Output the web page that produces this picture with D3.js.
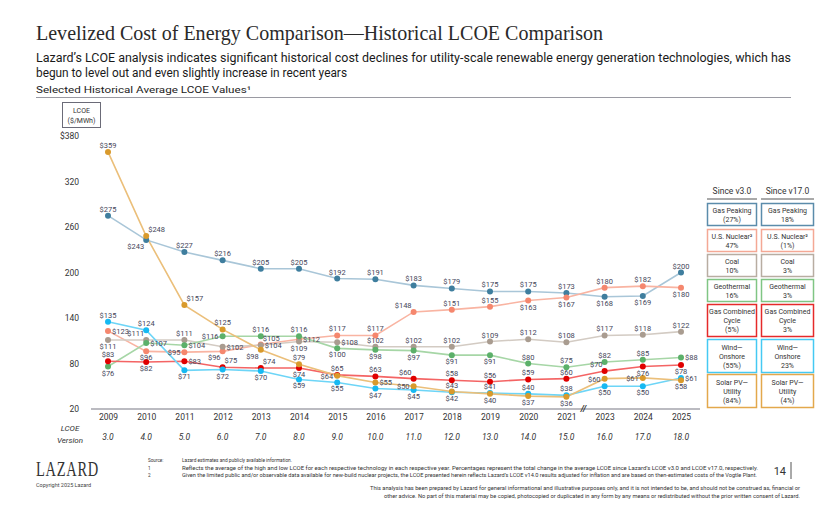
<!DOCTYPE html>
<html>
<head>
<meta charset="utf-8">
<script src="https://cdn.jsdelivr.net/npm/d3@7"></script>
<style>
  body { margin: 0; background: #fff; }
  svg { display: block; font-family: Roboto, "Liberation Sans", sans-serif; }
</style>
</head>
<body>
<div id="chart"></div>
<script>
// years on the x axis (no 2022 edition, hence the break mark)
const years = ["2009", "2010", "2011", "2012", "2013", "2014", "2015", "2016",
               "2017", "2018", "2019", "2020", "2021", "2023", "2024", "2025"];
const versions = ["3.0", "4.0", "5.0", "6.0", "7.0", "8.0", "9.0", "10.0",
                  "11.0", "12.0", "13.0", "14.0", "15.0", "16.0", "17.0", "18.0"];
const yTicks = [20, 80, 140, 200, 260, 320, 380];

const gasPeaking  = [275, 243, 227, 216, 205, 205, 192, 191, 183, 179, 175, 175, 173, 168, 169, 200];
const usNuclear   = [123, 96, 95, 96, 105, 112, 117, 117, 148, 151, 155, 163, 167, 180, 182, 180];
const coal        = [111, 111, 111, 102, 104, 109, 108, 102, 102, 102, 109, 112, 108, 117, 118, 122];
const geothermal  = [76, 107, 104, 116, 116, 116, 100, 98, 97, 91, 91, 80, 75, 82, 85, 88];
const gasCombined = [83, 82, 83, 75, 74, 74, 65, 63, 60, 58, 56, 59, 60, 70, 76, 78];
const windOnshore = [135, 124, 71, 72, 70, 59, 55, 47, 45, 42, 41, 40, 38, 50, 50, 61];
const solarPV     = [359, 248, 157, 125, 98, 79, 64, 55, 50, 43, 40, 37, 36, 60, 61, 58];

// legend text: [name lines, since v3.0, since v17.0]
const legendNames = [["Gas Peaking"], ["U.S. Nuclear²"], ["Coal"], ["Geothermal"],
                     ["Gas Combined", "Cycle"], ["Wind—", "Onshore"], ["Solar PV—", "Utility"]];
const sinceV3  = ["(27%)", "47%", "10%", "16%", "(5%)", "(55%)", "(84%)"];
const sinceV17 = ["18%", "(1%)", "3%", "3%", "3%", "23%", "(4%)"];

// where each value label sits relative to its point
const labelPos = [
  ["a","bl","a","a","a","a","a","a","a","a","a","a","a","b","b","a"],
  ["r","b","l","bl","ar","r","a","a","al","a","a","b","b","a","a","b"],
  ["b","al","a","r","r","b","r","a","a","a","a","a","a","a","a","a"],
  ["b","r","r","l","a","a","b","b","b","b","b","a","a","a","a","r"],
  ["a","b","r","ar","ar","b","a","a","al","a","a","a","a","al","b","b"],
  ["a","a","b","b","b","b","b","b","b","b","a","a","a","b","b","r"],
  ["a","ar","ar","a","bl","a","l","r","l","a","b","b","b","l","l","b"]
];

const series = [
  { name: "Gas Peaking", values: gasPeaking, line: "#a9c6d8", dot: "#3f7e9e", box: "#5b8cab" },
  { name: "U.S. Nuclear", values: usNuclear, line: "#f9b4a2", dot: "#f5876e", box: "#f4a895" },
  { name: "Coal", values: coal, line: "#d3cbc3", dot: "#a99c90", box: "#b8ada2" },
  { name: "Geothermal", values: geothermal, line: "#a6d6a6", dot: "#5cb06a", box: "#80c584" },
  { name: "Gas Combined Cycle", values: gasCombined, line: "#f46464", dot: "#e00000", box: "#e52a2a" },
  { name: "Wind—Onshore", values: windOnshore, line: "#6dd5f7", dot: "#16b9f2", box: "#45c9f3" },
  { name: "Solar PV—Utility", values: solarPV, line: "#ebbf7a", dot: "#d99a2c", box: "#e3a84c" }
];

const W = 829, H = 508;
const svg = d3.select("#chart").append("svg")
  .attr("width", W).attr("height", H);

// header
svg.append("text")
  .attr("x", 36).attr("y", 40)
  .attr("font-family", "'Liberation Serif', 'DejaVu Serif', serif")
  .attr("font-size", 22).attr("fill", "#2a2a2a")
  .attr("textLength", 567).attr("lengthAdjust", "spacingAndGlyphs")
  .text("Levelized Cost of Energy Comparison—Historical LCOE Comparison");

svg.append("text")
  .attr("x", 36).attr("y", 62)
  .attr("font-size", 12.5).attr("fill", "#1a1a1a")
  .attr("textLength", 755).attr("lengthAdjust", "spacingAndGlyphs")
  .text("Lazard’s LCOE analysis indicates significant historical cost declines for utility-scale renewable energy generation technologies, which has");
svg.append("text")
  .attr("x", 36).attr("y", 77)
  .attr("font-size", 12.5).attr("fill", "#1a1a1a")
  .attr("textLength", 311).attr("lengthAdjust", "spacingAndGlyphs")
  .text("begun to level out and even slightly increase in recent years");

svg.append("text")
  .attr("x", 36).attr("y", 93)
  .attr("font-size", 9.5).attr("fill", "#222")
  .attr("textLength", 215).attr("lengthAdjust", "spacingAndGlyphs")
  .text("Selected Historical Average LCOE Values¹");
svg.append("line")
  .attr("x1", 36).attr("x2", 791).attr("y1", 97.5).attr("y2", 97.5)
  .attr("stroke", "#9a9aa2").attr("stroke-width", 1);

// scales
const x = d3.scalePoint().domain(years).range([108, 681]);
const y = d3.scaleLinear().domain([20, 380]).range([409, 136]);

// y axis label box
svg.append("rect")
  .attr("x", 62.5).attr("y", 102.5).attr("width", 38).attr("height", 25)
  .attr("fill", "none").attr("stroke", "#6b6b78").attr("stroke-width", 1);
svg.append("text").attr("x", 81.5).attr("y", 112.5)
  .attr("text-anchor", "middle").attr("font-size", 7).attr("fill", "#333")
  .text("LCOE");
svg.append("text").attr("x", 81.5).attr("y", 122.5)
  .attr("text-anchor", "middle").attr("font-size", 7).attr("fill", "#333")
  .text("($/MWh)");

// y axis (labels only)
const yAxis = d3.axisLeft(y)
  .tickValues(yTicks)
  .tickSize(0)
  .tickFormat(d => d === 380 ? "$380" : d);
const yg = svg.append("g").attr("transform", "translate(82,0)").call(yAxis);
yg.select(".domain").remove();
yg.selectAll("text").attr("font-size", 8.5).attr("fill", "#333").attr("font-family", "Roboto, sans-serif");

// x axis baseline and year labels
svg.append("line")
  .attr("x1", 91).attr("x2", 700).attr("y1", 409).attr("y2", 409)
  .attr("stroke", "#a5a5ad").attr("stroke-width", 1.5);

const xAxis = d3.axisBottom(x).tickSize(0).tickPadding(0);
const xg = svg.append("g").attr("transform", "translate(0,414)").call(xAxis);
xg.select(".domain").remove();
xg.selectAll("text").attr("font-size", 8.5).attr("fill", "#333")
  .attr("dy", "0.71em").attr("font-family", "Roboto, sans-serif");

const vg = svg.append("g");
vg.selectAll("text").data(versions).join("text")
  .attr("x", (d, i) => x(years[i])).attr("y", 440)
  .attr("text-anchor", "middle").attr("font-size", 8.5)
  .attr("font-style", "italic").attr("fill", "#333")
  .text(d => d);
svg.append("text").attr("x", 70).attr("y", 431).attr("text-anchor", "middle")
  .attr("font-size", 8).attr("font-style", "italic").attr("fill", "#333").text("LCOE");
svg.append("text").attr("x", 70).attr("y", 443).attr("text-anchor", "middle")
  .attr("font-size", 8).attr("font-style", "italic").attr("fill", "#333").text("Version");

// axis break between 2021 and 2023
svg.append("text")
  .attr("x", (x("2021") + x("2023")) / 2 - 2).attr("y", 412)
  .attr("text-anchor", "middle").attr("font-size", 9).attr("font-weight", 700)
  .attr("font-style", "italic").attr("fill", "#333").text("//");

// lines, points, labels
const line = d3.line()
  .x((d, i) => x(years[i]))
  .y(d => y(d));

const offsets = {
  a:  { dx: 0,  dy: -4, anchor: "middle" },
  b:  { dx: 0,  dy: 9,  anchor: "middle" },
  l:  { dx: -4, dy: 3,  anchor: "end" },
  r:  { dx: 4,  dy: 3,  anchor: "start" },
  al: { dx: -2, dy: -4, anchor: "end" },
  ar: { dx: 2,  dy: -4, anchor: "start" },
  bl: { dx: -2, dy: 9,  anchor: "end" }
};

const plot = svg.append("g");
series.forEach(s => {
  plot.append("path")
    .datum(s.values)
    .attr("fill", "none")
    .attr("stroke", s.line)
    .attr("stroke-width", 1.6)
    .attr("d", line);
});
series.forEach(s => {
  plot.append("g").selectAll("circle").data(s.values).join("circle")
    .attr("cx", (d, i) => x(years[i]))
    .attr("cy", d => y(d))
    .attr("r", 3)
    .attr("fill", s.dot);
});
series.forEach((s, si) => {
  plot.append("g").selectAll("text").data(s.values).join("text")
    .attr("x", (d, i) => x(years[i]) + offsets[labelPos[si][i]].dx)
    .attr("y", (d, i) => y(d) + offsets[labelPos[si][i]].dy)
    .attr("text-anchor", (d, i) => offsets[labelPos[si][i]].anchor)
    .attr("font-size", 7.5)
    .attr("fill", "#45465a")
    .text(d => "$" + d);
});

// legend tables
const cols = [
  { x: 707, w: 50, head: "Since v3.0", vals: sinceV3 },
  { x: 761, w: 53, head: "Since v17.0", vals: sinceV17 }
];
const boxTops = [203, 229, 254, 279, 304, 339, 374];
const boxH = [22, 22, 22, 22, 32, 33, 33];

cols.forEach(c => {
  svg.append("text").attr("x", c.x + c.w / 2).attr("y", 194)
    .attr("text-anchor", "middle").attr("font-size", 8.5)
    .attr("fill", "#333").text(c.head);
  svg.append("line")
    .attr("x1", c.x).attr("x2", c.x + c.w).attr("y1", 199).attr("y2", 199)
    .attr("stroke", "#555").attr("stroke-width", 1);

  series.forEach((s, i) => {
    const g = svg.append("g");
    g.append("rect")
      .attr("x", c.x + 0.5).attr("y", boxTops[i] + 0.5)
      .attr("width", c.w - 1).attr("height", boxH[i])
      .attr("fill", "#fff").attr("stroke", s.box).attr("stroke-width", 1.5);
    const lines = legendNames[i].concat([c.vals[i]]);
    const top = boxTops[i] + boxH[i] / 2 - (lines.length - 1) * 4.5 + 3;
    lines.forEach((t, k) => {
      g.append("text")
        .attr("x", c.x + c.w / 2).attr("y", top + k * 9)
        .attr("text-anchor", "middle").attr("font-size", 7)
        .attr("fill", "#333").text(t);
    });
  });
});

// footer
svg.append("text").attr("x", 36).attr("y", 476)
  .attr("font-family", "'Liberation Serif', serif").attr("font-size", 20)
  .attr("letter-spacing", 1).attr("fill", "#333")
  .attr("textLength", 63).attr("lengthAdjust", "spacingAndGlyphs").text("LAZARD");
svg.append("text").attr("x", 36).attr("y", 487)
  .attr("font-size", 5.5).attr("fill", "#444").text("Copyright 2025 Lazard");

const notes = [
  ["Source:", "Lazard estimates and publicly available information."],
  ["1", "Reflects the average of the high and low LCOE for each respective technology in each respective year. Percentages represent the total change in the average LCOE since Lazard’s LCOE v3.0 and LCOE v17.0, respectively."],
  ["2", "Given the limited public and/or observable data available for new-build nuclear projects, the LCOE presented herein reflects Lazard’s LCOE v14.0 results adjusted for inflation and are based on then-estimated costs of the Vogtle Plant."]
];
const noteLen = [110, 576, 575];
notes.forEach((n, i) => {
  svg.append("text").attr("x", 148).attr("y", 462 + i * 7.5)
    .attr("font-size", 4.6).attr("fill", "#333").text(n[0]);
  svg.append("text").attr("x", 182).attr("y", 462 + i * 7.5)
    .attr("font-size", 4.6).attr("fill", "#333")
    .attr("textLength", noteLen[i]).attr("lengthAdjust", "spacingAndGlyphs").text(n[1]);
});

svg.append("text").attr("x", 786).attr("y", 475).attr("text-anchor", "end")
  .attr("font-size", 11).attr("fill", "#333").text("14");
svg.append("line").attr("x1", 791).attr("x2", 791).attr("y1", 462).attr("y2", 479)
  .attr("stroke", "#555").attr("stroke-width", 1);

const disclaimer = [
  "This analysis has been prepared by Lazard for general informational and illustrative purposes only, and it is not intended to be, and should not be construed as, financial or",
  "other advice. No part of this material may be copied, photocopied or duplicated in any form by any means or redistributed without the prior written consent of Lazard."
];
const discLen = [430, 416];
disclaimer.forEach((t, i) => {
  svg.append("text").attr("x", 800 - discLen[i]).attr("y", 490 + i * 7.5)
    .attr("font-size", 4.6).attr("fill", "#333")
    .attr("textLength", discLen[i]).attr("lengthAdjust", "spacingAndGlyphs").text(t);
});
</script>
</body>
</html>
